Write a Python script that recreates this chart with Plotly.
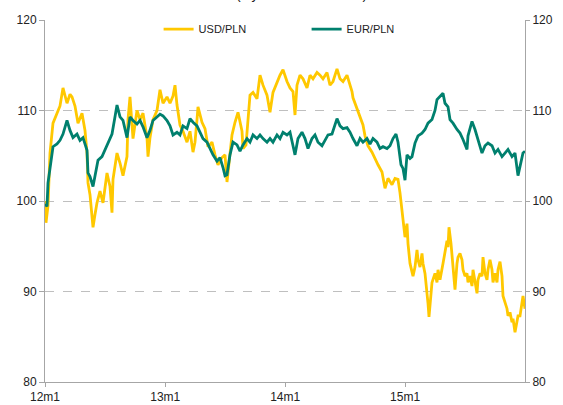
import numpy as np
import pandas as pd
import plotly.graph_objects as go

# months elapsed since January 2012 for each reading
usd_months = [0.0,0.1,0.3,0.5,0.8,1.2,1.5,1.8,2.2,2.5,2.7,3.0,3.3,3.7,4.0,4.2,4.3,4.5,4.7,4.8,5.0,5.2,5.5,5.8,6.2,6.5,6.7,6.8,7.2,7.5,7.8,8.2,8.3,8.5,8.8,9.2,9.5,9.8,10.2,10.3,10.5,10.8,11.2,11.5,11.8,
              12.2,12.5,12.8,13.0,13.2,13.5,13.8,14.2,14.5,14.8,15.0,15.2,15.3,15.7,16.0,16.3,16.7,17.0,17.3,17.7,18.0,18.2,18.3,18.7,19.0,19.3,19.7,19.8,20.1,20.3,20.5,20.8,21.2,21.5,21.8,22.2,22.5,22.8,23.2,23.5,23.8,
              24.2,24.5,24.8,25.0,25.2,25.5,25.8,26.2,26.5,26.8,27.2,27.5,27.8,28.2,28.5,28.8,29.2,29.5,29.8,30.2,30.5,30.7,30.8,31.2,31.5,31.8,32.0,32.3,32.7,33.0,33.3,33.7,34.0,34.3,34.7,35.0,35.3,35.5,35.7,35.8,
              36.0,36.2,36.3,36.5,36.7,36.8,37.0,37.2,37.3,37.5,37.7,37.8,38.0,38.2,38.3,38.4,38.6,38.7,39.0,39.2,39.3,39.5,39.8,40.0,40.2,40.3,40.4,40.6,40.8,41.0,41.2,41.3,41.5,41.7,41.8,42.0,42.2,42.3,42.5,42.7,42.8,
              43.0,43.2,43.3,43.5,43.7,43.8,44.0,44.2,44.3,44.5,44.7,44.8,45.0,45.2,45.3,45.5,45.7,45.8,46.0,46.2,46.3,46.5,46.7,46.8,47.0,47.2,47.3,47.5,47.7,47.8,48.0]
usd_pln = [100.0,97.6,99.5,105.3,108.6,109.7,110.5,112.5,110.8,111.8,111.5,110.5,108.6,109.7,107.8,105.3,102.0,100.7,98.2,97.1,98.5,99.8,101.1,99.8,103.1,101.6,98.7,102.4,105.3,104.2,102.8,104.9,109.0,111.5,106.9,110.0,109.0,109.7,107.0,104.9,107.0,109.0,110.0,112.3,110.8,
           111.5,110.8,111.6,112.8,110.6,108.4,107.7,106.5,107.7,105.4,106.5,109.0,110.4,108.7,108.0,106.0,106.5,105.1,104.0,104.8,105.1,102.1,103.2,107.3,108.7,109.8,107.7,105.8,106.2,109.4,111.7,112.0,111.3,113.9,112.8,111.7,109.8,112.0,113.2,113.9,114.5,
           113.2,112.5,112.1,109.5,112.8,113.9,113.5,112.5,113.9,113.5,114.2,113.9,113.5,114.2,112.8,113.2,114.6,113.5,113.2,113.9,112.8,112.1,111.4,110.2,109.1,108.4,107.2,106.1,105.4,104.6,104.0,103.2,101.4,102.5,101.8,102.5,102.4,100.9,99.0,97.5,
           96.0,97.5,95.3,93.1,92.0,91.7,92.7,94.6,93.5,92.7,94.2,93.1,92.0,90.2,88.7,87.2,89.8,91.0,92.0,91.0,92.4,91.3,93.1,94.6,95.6,94.9,97.1,95.3,92.4,90.2,93.1,93.8,94.2,93.5,92.4,91.7,92.0,91.0,91.7,90.6,92.4,
           91.3,89.8,91.3,92.0,91.7,93.8,92.0,91.3,92.4,93.5,92.4,91.0,92.0,91.0,92.4,93.3,91.7,89.5,88.8,88.1,87.3,87.7,86.6,87.0,85.5,86.6,87.3,87.3,88.8,89.5,88.1]

eur_months = [0.0,0.2,0.3,0.5,0.8,1.2,1.5,1.8,2.2,2.5,2.8,3.2,3.5,3.8,4.2,4.3,4.5,4.8,5.0,5.3,5.7,6.0,6.3,6.7,7.0,7.2,7.5,7.8,8.2,8.5,8.8,9.2,9.5,9.8,10.2,10.5,10.8,11.2,11.5,11.8,
              12.2,12.5,12.8,13.2,13.5,13.8,14.2,14.5,14.8,15.2,15.5,15.8,16.2,16.5,16.8,17.2,17.5,17.8,18.0,18.2,18.5,18.8,19.2,19.5,19.8,20.2,20.5,20.8,21.2,21.5,21.8,22.2,22.5,22.8,23.2,23.5,23.8,
              24.2,24.5,24.8,25.0,25.3,25.7,26.0,26.3,26.7,27.0,27.3,27.7,28.0,28.3,28.7,29.0,29.2,29.5,29.8,30.2,30.5,30.8,31.2,31.5,31.8,32.2,32.5,32.8,33.2,33.5,33.8,34.2,34.5,34.8,35.1,35.3,35.6,35.8,
              36.0,36.2,36.5,36.7,37.0,37.3,37.7,38.0,38.3,38.7,39.0,39.2,39.5,39.8,40.0,40.3,40.5,40.8,41.2,41.5,41.8,42.2,42.3,42.7,43.0,43.3,43.7,44.0,44.3,44.7,45.0,45.3,45.7,46.0,46.3,46.7,47.0,47.3,47.5,47.8,48.0]
eur_pln = [99.7,99.4,102.0,103.8,106.0,106.3,106.7,107.4,108.9,107.8,107.0,107.4,106.7,107.0,105.6,103.1,102.7,101.6,102.7,104.5,104.9,105.6,106.4,107.4,109.3,110.6,109.3,108.9,107.0,109.3,108.9,108.5,108.9,108.2,107.0,107.8,108.9,109.3,109.6,109.4,
           108.9,108.3,107.3,107.6,107.3,108.3,108.0,109.1,108.7,108.3,107.6,106.9,106.5,105.8,105.1,104.4,104.8,103.7,102.8,102.9,105.1,106.5,106.2,105.5,106.2,106.9,106.5,107.3,106.9,107.3,106.9,106.5,106.9,106.5,107.3,106.9,107.6,
           107.3,107.6,106.1,105.1,106.9,107.6,106.9,105.8,106.9,107.3,106.5,106.1,106.7,107.3,107.4,108.3,109.1,108.3,108.0,108.1,107.6,106.9,106.1,106.9,106.5,106.9,106.3,106.9,106.5,105.8,106.0,105.8,106.1,106.9,107.4,106.5,104.0,103.6,
           102.3,105.1,104.7,104.9,106.4,107.2,107.5,107.9,108.6,109.0,110.0,111.2,111.5,111.9,110.8,110.4,109.0,108.6,107.9,107.5,106.8,105.7,107.2,108.8,107.9,106.8,105.3,106.1,106.4,106.1,105.3,105.7,104.9,105.3,105.7,104.9,105.3,102.8,103.8,105.3,105.5]

tick_labels = ["12m1", "13m1", "14m1", "15m1"]
tick_dates = ["2012-01-01", "2013-01-01", "2014-01-01", "2015-01-01"]
y_ticks = [80, 90, 100, 110, 120]

start = pd.Timestamp("2012-01-01")
def to_dates(m):
    return start + pd.to_timedelta(np.array(m) * 30.4375, unit="D")

usd_x = to_dates(usd_months)
eur_x = to_dates(eur_months)

YELLOW = "#FFC800"
TEAL = "#00806E"
GRID = "#BFBFBF"
AXIS = "#A6A6A6"
FONT = dict(family="Arial, Liberation Sans, sans-serif", size=12, color="#222222")

fig = go.Figure()
fig.add_trace(go.Scatter(x=usd_x, y=usd_pln, name="USD/PLN", mode="lines",
                         line=dict(color=YELLOW, width=2.8)))
fig.add_trace(go.Scatter(x=eur_x, y=eur_pln, name="EUR/PLN", mode="lines",
                         line=dict(color=TEAL, width=2.8)))
# invisible trace to drive the right axis
fig.add_trace(go.Scatter(x=eur_x[:1], y=eur_pln[:1], yaxis="y2", showlegend=False,
                         mode="lines", line=dict(width=0), hoverinfo="skip"))

fig.update_layout(
    width=563, height=405,
    margin=dict(l=45, r=38, t=20, b=23, autoexpand=False),
    paper_bgcolor="white", plot_bgcolor="white",
    font=FONT,
    showlegend=True,
    legend=dict(orientation="h", x=0.545, xanchor="center", y=1.015, yanchor="top",
                bgcolor="rgba(0,0,0,0)", font=dict(size=11, family=FONT["family"], color="#222"),
                itemwidth=30, tracegroupgap=0, entrywidth=103),
    xaxis=dict(type="date", range=["2012-01-01", "2016-01-01"], automargin=False,
               tickvals=tick_dates, ticktext=tick_labels,
               showgrid=False, showline=True, linecolor=AXIS, linewidth=1,
               ticks="outside", ticklen=4, tickcolor=AXIS, zeroline=False,
               tickfont=dict(size=12)),
    yaxis=dict(range=[80, 120], tickvals=y_ticks, showgrid=True, gridcolor=GRID, automargin=False,
               griddash="dash", gridwidth=1, showline=True, linecolor=AXIS, linewidth=1,
               ticks="outside", ticklen=5, tickcolor=AXIS, zeroline=False,
               tickfont=dict(size=12)),
    yaxis2=dict(range=[80, 120], tickvals=y_ticks, overlaying="y", side="right", automargin=False,
                showgrid=False, showline=True, linecolor=AXIS, linewidth=1,
                ticks="outside", ticklen=4, tickcolor=AXIS, zeroline=False,
                tickfont=dict(size=12)),
)

fig.add_annotation(text="(styczeń 2012 = 100)", xref="paper", yref="paper",
                   x=0.535, y=1.045, xanchor="center", yanchor="bottom",
                   showarrow=False, font=dict(size=14, color="#222"))

fig.write_html("out.html", config={"displayModeBar": False},
               post_script="document.body.style.margin='0px';")
